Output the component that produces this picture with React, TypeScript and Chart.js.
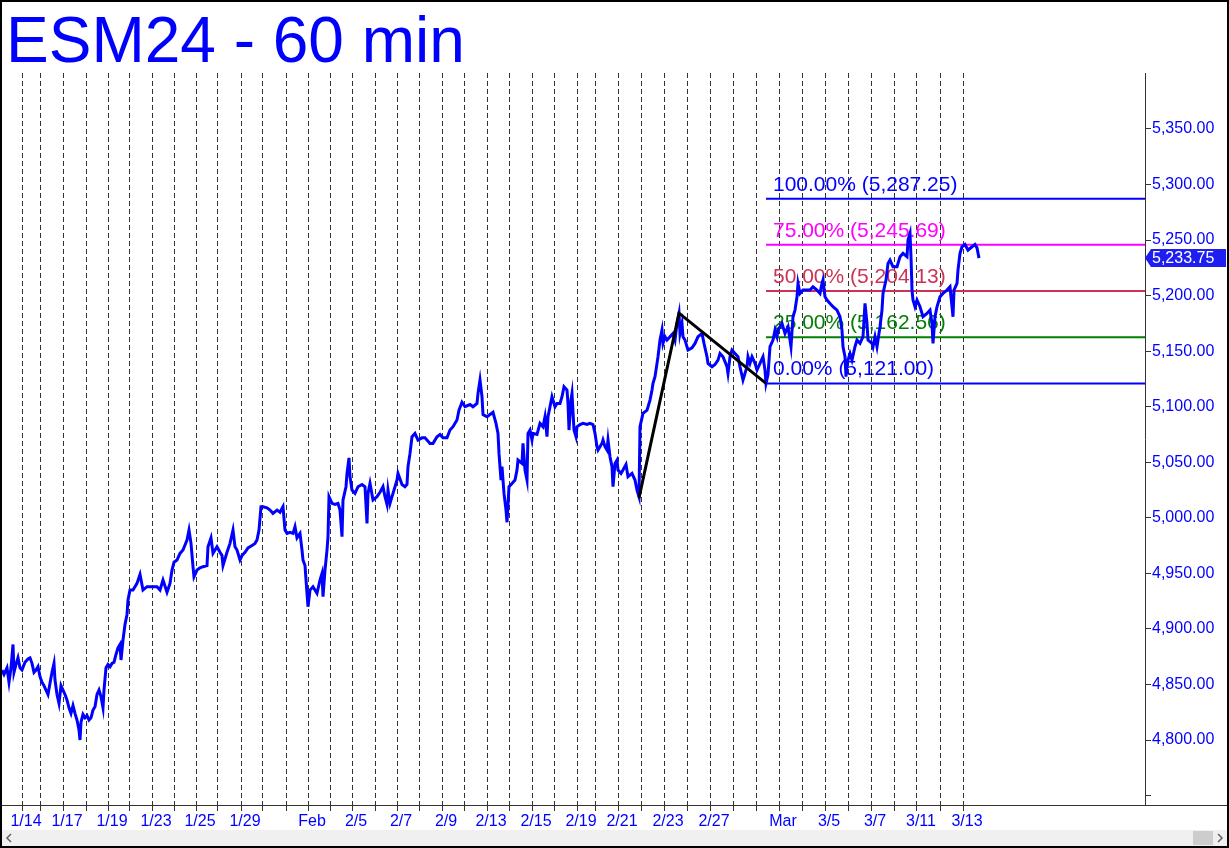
import React, { useEffect, useRef } from 'react';
import { Chart, registerables } from 'chart.js';

Chart.register(...registerables);

const TITLE = 'ESM24 - 60 min';

// hour index at which each trading session starts (first labelled session = 0)
const sessionStarts = [0, 18, 41, 64, 86, 107, 130, 152, 174, 195, 219, 240, 264, 286, 308, 330, 353, 375, 397, 420, 442, 465, 487, 510, 532, 555, 573, 596, 619, 642, 665, 688, 711, 734, 757, 780, 803, 826, 849, 872, 895, 918, 941];
const sessionLabels = ['1/14', '', '1/17', '', '1/19', '', '1/23', '', '1/25', '', '1/29', '', '', 'Feb', '', '2/5', '', '2/7', '', '2/9', '', '2/13', '', '2/15', '', '2/19', '', '2/21', '', '2/23', '', '2/27', '', '', 'Mar', '', '3/5', '', '3/7', '', '3/11', '', '3/13'];

const yTickValues = [4750, 4800, 4850, 4900, 4950, 5000, 5050, 5100, 5150, 5200, 5250, 5300, 5350];
const unlabeledYTicks = [4750];

// [hour index, price]
const priceSeries: [number, number][] = [
  [-20, 4863], [-18, 4859], [-15, 4865], [-13, 4852], [-11, 4865], [-9, 4886], [-8, 4861], [-6, 4868], [-4, 4874], [-2, 4865], [0, 4863], [3, 4870], [6, 4873], [8, 4874], [10, 4869], [12, 4861], [14, 4863], [16, 4866], [18, 4857], [20, 4852], [22, 4849], [24, 4845], [26, 4841], [28, 4851], [30, 4861], [32, 4869], [33, 4854], [35, 4841], [37, 4833], [39, 4849], [41, 4845], [43, 4841], [45, 4836], [47, 4829], [49, 4824], [51, 4831], [53, 4824], [55, 4818], [57, 4809], [58, 4800], [59, 4816], [61, 4823], [63, 4820], [65, 4822], [67, 4818], [69, 4820], [71, 4827], [73, 4830], [75, 4841], [77, 4845], [79, 4839], [81, 4829], [82, 4845], [84, 4865], [86, 4868], [88, 4866], [90, 4869], [92, 4870], [94, 4877], [96, 4883], [98, 4886], [99, 4872], [101, 4890], [103, 4904], [105, 4913], [106, 4926],
  [108, 4935], [111, 4935], [115, 4941], [118, 4949], [121, 4935], [125, 4938], [128, 4938], [131, 4938], [135, 4938], [138, 4935], [141, 4944], [145, 4933], [148, 4941], [150, 4953], [152, 4960], [155, 4962], [158, 4968], [161, 4971], [165, 4980], [167, 4989], [169, 4977], [171, 4956], [172, 4947], [175, 4953], [178, 4955], [181, 4956], [185, 4957], [186, 4974], [189, 4982], [191, 4968], [195, 4974], [198, 4969], [200, 4966], [201, 4957], [205, 4969], [208, 4977], [211, 4989], [213, 4974], [215, 4971], [218, 4962], [220, 4966], [223, 4969], [226, 4973], [230, 4975], [233, 4977], [235, 4980], [237, 4989], [239, 5010],
  [241, 5010], [245, 5009], [248, 5007], [251, 5004], [255, 5007], [258, 5005], [261, 5010], [263, 4989], [265, 4986], [268, 4987], [271, 4986], [273, 4992], [275, 4982], [278, 4986], [280, 4971], [281, 4962], [283, 4957], [285, 4932], [286, 4920], [288, 4935], [291, 4938], [295, 4932], [298, 4944], [300, 4950], [301, 4929], [303, 4953], [305, 4971], [306, 4983], [307, 5019], [310, 5013], [313, 5012], [316, 5013], [318, 5007], [320, 4983], [321, 5016], [324, 5028], [325, 5040], [327, 5054], [328, 5037], [330, 5025], [333, 5022], [336, 5028], [340, 5030], [343, 5028], [345, 4995], [346, 5022], [348, 5031], [351, 5016], [355, 5019], [358, 5023], [361, 5028], [363, 5019], [365, 5012], [366, 5025], [368, 5013], [371, 5022], [375, 5034], [376, 5040], [380, 5030], [383, 5028], [385, 5030], [386, 5046], [388, 5058], [390, 5073], [393, 5076], [396, 5070], [400, 5072], [403, 5072], [408, 5067], [411, 5067], [415, 5073], [418, 5075], [421, 5072], [425, 5072], [428, 5079], [431, 5082], [435, 5088], [437, 5097], [440, 5104], [443, 5100], [448, 5102], [451, 5100], [455, 5103], [456, 5112], [458, 5124], [460, 5109], [461, 5093], [465, 5091], [468, 5093], [471, 5095], [474, 5085], [476, 5076], [477, 5058], [479, 5034], [480, 5046], [482, 5022], [484, 5007], [485, 4996], [487, 5028],
  [490, 5031], [493, 5034], [495, 5043], [496, 5052], [500, 5049], [501, 5067], [503, 5043], [505, 5034], [506, 5076], [508, 5079], [510, 5070], [511, 5076], [515, 5075], [518, 5085], [521, 5082], [523, 5091], [525, 5073], [526, 5091], [528, 5100], [530, 5109], [531, 5106], [533, 5100], [535, 5103], [538, 5103], [540, 5109], [542, 5118], [545, 5115], [546, 5103], [547, 5079], [549, 5106], [550, 5112], [552, 5079], [554, 5073], [555, 5082], [558, 5084], [561, 5085], [565, 5084], [568, 5085], [571, 5084], [573, 5076], [575, 5064], [576, 5061], [580, 5067], [581, 5070], [583, 5064], [585, 5061], [586, 5070], [588, 5055], [590, 5046], [591, 5028], [593, 5049], [595, 5052], [596, 5043], [599, 5040], [601, 5043], [604, 5048], [606, 5037], [610, 5040], [613, 5034], [615, 5025], [617, 5019], [618, 5082], [621, 5094], [625, 5097], [628, 5106], [630, 5115], [631, 5121], [633, 5127], [635, 5139], [636, 5145], [638, 5160], [640, 5169], [641, 5157], [643, 5163], [645, 5160], [648, 5163], [651, 5166], [653, 5160], [655, 5175], [657, 5184], [658, 5166], [660, 5175], [661, 5163], [663, 5160], [666, 5151], [670, 5153], [673, 5157], [676, 5163], [680, 5166], [682, 5157], [685, 5145], [686, 5139], [690, 5136], [693, 5138], [696, 5142], [698, 5148], [701, 5145], [705, 5136], [706, 5130], [708, 5145], [710, 5151], [713, 5148], [716, 5145], [718, 5136], [721, 5124], [723, 5130], [725, 5136], [726, 5145], [728, 5139], [730, 5145], [733, 5139], [735, 5133], [738, 5139], [741, 5145], [743, 5133], [744, 5121],
  [746, 5129], [748, 5154], [751, 5160], [753, 5169], [755, 5163], [756, 5169], [758, 5172], [760, 5175], [763, 5166], [766, 5172], [768, 5160], [769, 5154], [771, 5181], [773, 5187], [775, 5199], [776, 5211], [778, 5202], [781, 5205], [785, 5205], [788, 5205], [791, 5208], [795, 5205], [798, 5202], [800, 5211], [801, 5214], [803, 5199], [805, 5196], [808, 5193], [811, 5190], [815, 5187], [818, 5181], [820, 5169], [821, 5154], [823, 5145], [824, 5127], [825, 5139], [828, 5148], [830, 5142], [833, 5154], [835, 5160], [838, 5157], [841, 5163], [843, 5193], [845, 5175], [846, 5160], [850, 5157], [851, 5154], [853, 5163], [855, 5154], [856, 5160], [858, 5172], [860, 5187], [861, 5202], [864, 5214], [866, 5229], [868, 5232], [871, 5226], [875, 5226], [878, 5235], [881, 5238], [885, 5235], [886, 5250], [888, 5256], [889, 5235], [890, 5205], [891, 5196], [893, 5190], [895, 5196], [898, 5190], [901, 5181], [905, 5184], [908, 5187], [910, 5175], [911, 5157], [913, 5181], [915, 5190], [918, 5199], [921, 5202], [925, 5205], [928, 5208], [931, 5181], [932, 5205], [935, 5211], [936, 5223], [938, 5238], [940, 5244], [943, 5246], [946, 5241], [950, 5244], [953, 5246], [955, 5243], [957, 5233.75],
];

const lastPrice = 5233.75;

// swing pattern (A low, B high, C low)
const swingHours = [617, 657, 744];
const swingPrices = [5018, 5184.25, 5121];

const fibPercents = ['100.00%', '75.00%', '50.00%', '25.00%', '0.00%'];
const fibLevels = [5287.25, 5245.69, 5204.13, 5162.56, 5121.0];
const fibColors = ['#0000ff', '#ff00ff', '#cc3355', '#008000', '#0000ff'];

const FONT = '"Liberation Sans", Arial, sans-serif';
const BLUE = '#0000ff';
const X_MIN = -20;
const X_MAX = 1123;

const fmt = (v: number) =>
  v.toLocaleString('en-US', { minimumFractionDigits: 2, maximumFractionDigits: 2 });

const overlayPlugin = {
  id: 'overlay',
  beforeDatasetsDraw(chart: any) {
    const { ctx, scales } = chart;
    const x = scales.x;
    const y = scales.y;
    ctx.save();
    ctx.font = `21px ${FONT}`;
    ctx.textAlign = 'left';
    ctx.textBaseline = 'alphabetic';
    const x0 = x.getPixelForValue(swingHours[2]) + 7;
    fibLevels.forEach((lv, i) => {
      ctx.fillStyle = fibColors[i];
      ctx.fillText(`${fibPercents[i]} (${fmt(lv)})`, x0, y.getPixelForValue(lv) - 8);
    });
    ctx.restore();
  },
  afterDraw(chart: any) {
    const { ctx, chartArea, scales } = chart;
    const y = scales.y;
    const W = chart.width;
    const H = chart.height;
    ctx.save();
    // title
    ctx.fillStyle = BLUE;
    ctx.font = `64px ${FONT}`;
    ctx.textAlign = 'left';
    ctx.textBaseline = 'alphabetic';
    ctx.fillText(TITLE, 6, 62);
    // bottom axis line continues under the price scale
    ctx.strokeStyle = '#333';
    ctx.lineWidth = 1;
    ctx.beginPath();
    ctx.moveTo(chartArea.right, chartArea.bottom + 0.5);
    ctx.lineTo(W, chartArea.bottom + 0.5);
    ctx.stroke();
    // last price marker
    const py = Math.round(y.getPixelForValue(lastPrice));
    const bx = chartArea.right;
    ctx.fillStyle = '#1e1ef0';
    ctx.beginPath();
    ctx.moveTo(bx, py);
    ctx.lineTo(bx + 6, py - 9);
    ctx.lineTo(W - 3, py - 9);
    ctx.lineTo(W - 3, py + 9);
    ctx.lineTo(bx + 6, py + 9);
    ctx.closePath();
    ctx.fill();
    ctx.fillStyle = '#ffffff';
    ctx.font = `16px ${FONT}`;
    ctx.textBaseline = 'middle';
    ctx.fillText(fmt(lastPrice), bx + 7, py + 1);
    // scrollbar
    ctx.fillStyle = '#f0f0f0';
    ctx.fillRect(2, H - 18, W - 4, 16);
    ctx.fillStyle = '#cdcdcd';
    ctx.fillRect(W - 36, H - 17, 20, 14);
    ctx.strokeStyle = '#606060';
    ctx.lineWidth = 1.5;
    ctx.beginPath();
    ctx.moveTo(11, H - 14);
    ctx.lineTo(7, H - 10);
    ctx.lineTo(11, H - 6);
    ctx.moveTo(W - 11, H - 14);
    ctx.lineTo(W - 7, H - 10);
    ctx.lineTo(W - 11, H - 6);
    ctx.stroke();
    // frame
    ctx.strokeStyle = '#000';
    ctx.lineWidth = 2;
    ctx.strokeRect(1, 1, W - 2, H - 2);
    ctx.restore();
  },
};

export default function App() {
  const ref = useRef<HTMLCanvasElement | null>(null);

  useEffect(() => {
    if (!ref.current) return;
    const chart = new Chart(ref.current, {
      type: 'line',
      data: {
        datasets: [
          {
            label: 'swing',
            data: swingHours.map((h, i) => ({ x: h, y: swingPrices[i] })),
            borderColor: '#000000',
            borderWidth: 3,
            pointRadius: 0,
            tension: 0,
          },
          {
            label: 'ESM24',
            data: priceSeries.map(([h, p]) => ({ x: h, y: p })),
            borderColor: BLUE,
            borderWidth: 3,
            pointRadius: 0,
            tension: 0,
            borderJoinStyle: 'miter',
          },
          ...fibLevels.map((lv, i) => ({
            label: fibPercents[i],
            data: [
              { x: swingHours[2], y: lv },
              { x: X_MAX, y: lv },
            ],
            borderColor: fibColors[i],
            borderWidth: 2,
            pointRadius: 0,
            tension: 0,
          })),
        ],
      },
      options: {
        animation: false,
        responsive: false,
        devicePixelRatio: 1,
        layout: { padding: { left: 2, top: 73, right: 0, bottom: 0 } },
        plugins: {
          legend: { display: false },
          tooltip: { enabled: false },
          title: { display: false },
        },
        events: [],
        scales: {
          x: {
            type: 'linear',
            position: 'bottom',
            min: X_MIN,
            max: X_MAX,
            afterBuildTicks: (axis: any) => {
              axis.ticks = sessionStarts.map((v) => ({ value: v }));
            },
            afterFit: (axis: any) => {
              axis.height = 43;
            },
            ticks: {
              autoSkip: false,
              maxRotation: 0,
              minRotation: 0,
              color: BLUE,
              font: { family: FONT, size: 16 },
              padding: 1,
              labelOffset: 4,
              callback: (value: any) => {
                const idx = sessionStarts.indexOf(Number(value));
                return idx >= 0 ? sessionLabels[idx] : '';
              },
            },
            grid: {
              display: true,
              drawOnChartArea: true,
              drawTicks: true,
              tickLength: 6,
              color: '#333333',
              lineWidth: 1,
              tickColor: '#333333',
            },
            border: { display: true, color: '#333333', width: 1, dash: [5, 3] },
          },
          y: {
            type: 'linear',
            position: 'right',
            min: 4741.5,
            max: 5400.4,
            afterBuildTicks: (axis: any) => {
              axis.ticks = yTickValues.map((v) => ({ value: v }));
            },
            afterFit: (axis: any) => {
              axis.width = 84;
            },
            ticks: {
              color: BLUE,
              font: { family: FONT, size: 16 },
              padding: 1,
              callback: (value: any) =>
                unlabeledYTicks.includes(Number(value)) ? '' : fmt(Number(value)),
            },
            grid: {
              display: true,
              drawOnChartArea: false,
              drawTicks: true,
              tickLength: 6,
              color: '#333333',
              tickColor: '#333333',
            },
            border: { display: true, color: '#333333', width: 1 },
          },
        },
      } as any,
      plugins: [overlayPlugin],
    });
    return () => chart.destroy();
  }, []);

  return (
    <div style={{ position: 'fixed', left: 0, top: 0, width: 1229, height: 848, background: '#ffffff' }}>
      <canvas ref={ref} width={1229} height={848} style={{ width: 1229, height: 848, display: 'block' }} />
    </div>
  );
}
